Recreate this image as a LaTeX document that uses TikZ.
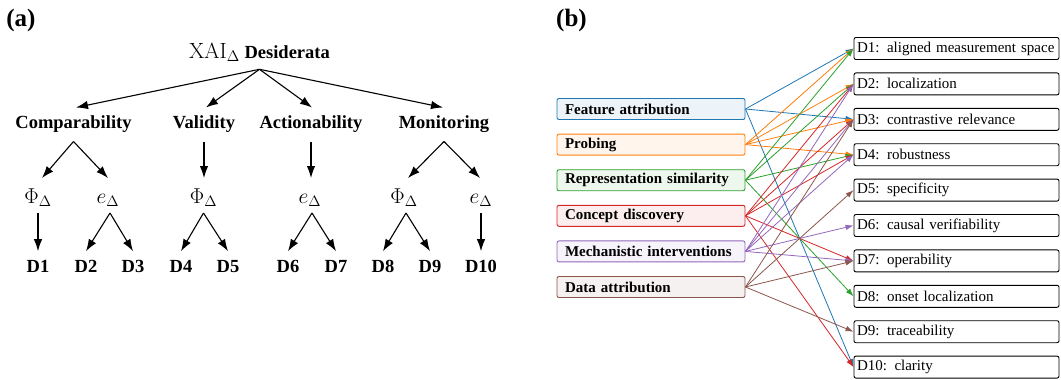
\RequirePackage{fix-cm}
\documentclass[tikz,border=0pt]{standalone}
\usepackage[no-math]{fontspec}
\setmainfont{Liberation Serif}
\usetikzlibrary{arrows.meta}
\definecolor{cA}{HTML}{1F77B4}
\definecolor{cB}{HTML}{FF7F0E}
\definecolor{cC}{HTML}{2CA02C}
\definecolor{cD}{HTML}{D62728}
\definecolor{cE}{HTML}{9467BD}
\definecolor{cF}{HTML}{8C564B}
\newcommand{\bigmath}{\fontsize{22}{26}\selectfont}
\begin{document}
\begin{tikzpicture}[x=1pt,y=-1pt,
  afont/.style={font=\bfseries\fontsize{18.5}{22}\selectfont},
  panel/.style={font=\bfseries\fontsize{25}{28}\selectfont, inner sep=0pt, anchor=base},
  rootnode/.style={afont, text height=12pt, text depth=4pt, inner sep=0pt, outer ysep=7pt, anchor=base},
  lvlone/.style={afont, text height=12pt, text depth=4pt, inner sep=0pt, outer ysep=9pt, anchor=base},
  lvltwo/.style={font=\fontsize{21.5}{26}\selectfont, text height=15pt, text depth=0pt, inner sep=0pt, outer ysep=10pt, anchor=base},
  lvlthree/.style={afont, text height=12.5pt, text depth=0pt, inner sep=0pt, outer ysep=9pt, anchor=base},
  arr/.style={-{Latex[length=12pt,width=8.5pt]}, line width=1.1pt, black},
  src/.style={draw=#1, fill=#1!8, line width=0.9pt, rounded corners=2pt,
    minimum height=21pt, text width=172pt, inner xsep=8pt, inner ysep=0pt, align=left,
    font=\bfseries\fontsize{15}{18}\selectfont},
  dst/.style={draw=black, fill=white, line width=0.9pt, rounded corners=2pt,
    minimum height=22pt, text width=199pt, inner xsep=3pt, inner ysep=0pt, align=left,
    font=\fontsize{15}{18}\selectfont},
  conn/.style={-{Latex[length=8pt,width=5.5pt]}, line width=0.8pt}
]
\useasboundingbox (0,0) rectangle (1061,380);

% ---------- panel (a) ----------
\node[panel] (pa) at (21,26) {(a)};
\node[rootnode] (root) at (259.5,58.3) {{\bigmath$\mathrm{XAI}_{\Delta}$} Desiderata};

\node[lvlone] (comp) at (73.5,128.5) {Comparability};
\node[lvlone] (valid) at (204,128.5) {Validity};
\node[lvlone] (action) at (311,128.5) {Actionability};
\node[lvlone] (monit) at (444,128.5) {Monitoring};

\node[lvltwo] (phiA) at (38,203) {$\Phi_{\Delta}$};
\node[lvltwo] (eA) at (108,203) {$e_{\Delta}$};
\node[lvltwo] (phiB) at (203.5,203) {$\Phi_{\Delta}$};
\node[lvltwo] (eB) at (310,203) {$e_{\Delta}$};
\node[lvltwo] (phiC) at (404,203) {$\Phi_{\Delta}$};
\node[lvltwo] (eC) at (481,203) {$e_{\Delta}$};

\foreach \n/\x in {1/38,2/86,3/133,4/181,5/228,6/288,7/336,8/383,9/430,10/481}
  \node[lvlthree] (d\n) at (\x,272.7) {D\n};

\draw[arr] (root.south) -- ([xshift=2.5pt]comp.north);
\draw[arr] (root.south) -- ([xshift=2pt]valid.north);
\draw[arr] (root.south) -- ([xshift=1pt]action.north);
\draw[arr] (root.south) -- ([xshift=-1pt]monit.north);

\draw[arr] (comp.south) -- ([xshift=4pt]phiA.north);
\draw[arr] (comp.south) -- (eA.north);
\draw[arr] (valid.south) -- (valid.south |- phiB.north);
\draw[arr] (action.south) -- (action.south |- eB.north);
\draw[arr] (monit.south) -- ([xshift=4pt]phiC.north);
\draw[arr] (monit.south) -- ([xshift=-1pt]eC.north);

\draw[arr] (phiA.south) -- (d1.north);
\draw[arr] ([xshift=2pt]eA.south) -- (d2.north);
\draw[arr] ([xshift=2pt]eA.south) -- (d3.north);
\draw[arr] (phiB.south) -- (d4.north);
\draw[arr] (phiB.south) -- (d5.north);
\draw[arr] ([xshift=2pt]eB.south) -- (d6.north);
\draw[arr] ([xshift=2pt]eB.south) -- (d7.north);
\draw[arr] ([xshift=2pt]phiC.south) -- (d8.north);
\draw[arr] ([xshift=2pt]phiC.south) -- (d9.north);
\draw[arr] (eC.south) -- (d10.north);

% ---------- panel (b) ----------
\node[panel] (pb) at (571.5,26) {(b)};

\foreach \c/\t [count=\i] in {cA/Feature attribution, cB/Probing, cC/Representation similarity,
    cD/Concept discovery, cE/Mechanistic interventions, cF/Data attribution}
  \node[src=\c] (s\i) at (651,{109+35.6*(\i-1)}) {\t};

\foreach \t [count=\i] in {aligned measurement space, localization, contrastive relevance,
    robustness, specificity, causal verifiability, operability, onset localization,
    traceability, clarity}
  \node[dst] (r\i) at (956.5,{48.5+35.4*(\i-1)}) {D\i:\enspace \t};

\foreach \s/\c/\l in {1/cA/{1,3,10}, 2/cB/{1,2,3,4}, 3/cC/{1,2,4,8},
    4/cD/{2,3,4,7,10}, 5/cE/{2,3,4,6,7}, 6/cF/{3,5,7,9}}
  \foreach \d in \l
    \draw[conn, color=\c] (s\s.east) -- (r\d.west);
\end{tikzpicture}
\end{document}
